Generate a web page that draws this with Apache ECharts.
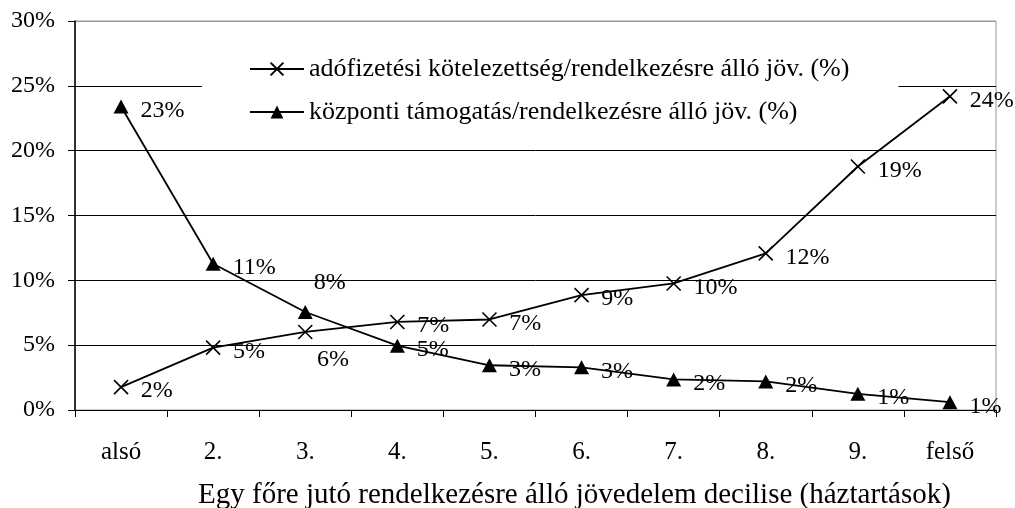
<!DOCTYPE html>
<html>
<head>
<meta charset="utf-8">
<script src="https://cdn.jsdelivr.net/npm/echarts@6/dist/echarts.min.js"></script>
<style>html,body{margin:0;padding:0;background:#fff;}#c{width:1015px;height:508px;}</style>
</head>
<body>
<div id="c"></div>
<script>
const categories = ['alsó', '2.', '3.', '4.', '5.', '6.', '7.', '8.', '9.', 'felső'];
const seriesNames = ['adófizetési kötelezettség/rendelkezésre álló jöv. (%)', 'központi támogatás/rendelkezésre álló jöv. (%)'];
const taxValues = [1.76, 4.81, 6.02, 6.79, 6.98, 8.86, 9.76, 12.08, 18.78, 24.19];
const subsidyValues = [23.4, 11.28, 7.56, 4.96, 3.45, 3.29, 2.36, 2.2, 1.25, 0.6];
const yTicks = [0, 5, 10, 15, 20, 25, 30];

const FONT = 'Liberation Serif';
const crossPath = 'path://M0,0L10,10M10,0L0,10';

function makeData(values, special) {
  return values.map((v, i) => {
    const d = { value: v };
    if (special[i]) d.label = { offset: special[i] };
    return d;
  });
}

const labelBase = {
  show: true,
  position: 'right',
  distance: 12,
  offset: [0, 4],
  color: '#000',
  fontFamily: FONT,
  fontSize: 24,
  formatter: p => Math.round(p.value) + '%'
};

const chart = echarts.init(document.getElementById('c'), null, { renderer: 'canvas' });
chart.setOption({
  backgroundColor: '#fff',
  animation: false,
  grid: { left: 75, right: 19, top: 21, bottom: 98, containLabel: false, outerBoundsMode: 'none', show: true, borderColor: '#999', borderWidth: 1, backgroundColor: 'transparent' },
  legend: {
    orient: 'vertical',
    left: 202,
    top: 40,
    padding: [16, 49, 16, 47],
    itemGap: 17,
    itemWidth: 54,
    itemHeight: 16,
    backgroundColor: '#fff',
    textStyle: { fontFamily: FONT, fontSize: 26, color: '#000' },
    data: seriesNames,
    z: 3
  },
  xAxis: {
    type: 'category',
    data: categories,
    boundaryGap: true,
    axisLine: { lineStyle: { color: '#000', width: 1 } },
    axisTick: { show: true, length: 7, alignWithLabel: false, lineStyle: { color: '#000' } },
    axisLabel: { color: '#000', fontFamily: FONT, fontSize: 25, margin: 30 },
    name: 'Egy főre jutó rendelkezésre álló jövedelem decilise (háztartások)',
    nameLocation: 'middle',
    nameGap: 71,
    nameTextStyle: { color: '#000', fontFamily: FONT, fontSize: 29, padding: [0, 0, 0, 78] }
  },
  yAxis: {
    type: 'value',
    min: yTicks[0],
    max: yTicks[yTicks.length - 1],
    interval: 5,
    axisLine: { show: true, lineStyle: { color: '#000', width: 1.5 } },
    axisTick: { show: true, length: 7, lineStyle: { color: '#000' } },
    axisLabel: { color: '#000', fontFamily: FONT, fontSize: 24, margin: 20, formatter: '{value}%' },
    splitLine: { show: true, lineStyle: { color: ['#000', '#000', '#000', '#000', '#000', '#000', '#999'], width: 1 } }
  },
  series: [
    {
      name: seriesNames[0],
      type: 'line',
      data: makeData(taxValues, { 2: [-8, 28] }),
      symbol: crossPath,
      symbolSize: 14,
      lineStyle: { color: '#000', width: 1.8 },
      itemStyle: { color: '#000', borderColor: '#000', borderWidth: 1.6 },
      label: labelBase,
      z: 5
    },
    {
      name: seriesNames[1],
      type: 'line',
      data: makeData(subsidyValues, { 2: [-11, -29] }),
      symbol: 'triangle',
      symbolSize: [15, 14],
      lineStyle: { color: '#000', width: 1.8 },
      itemStyle: { color: '#000', borderColor: '#000', borderWidth: 0 },
      label: labelBase,
      z: 5
    }
  ]
});
</script>
</body>
</html>
